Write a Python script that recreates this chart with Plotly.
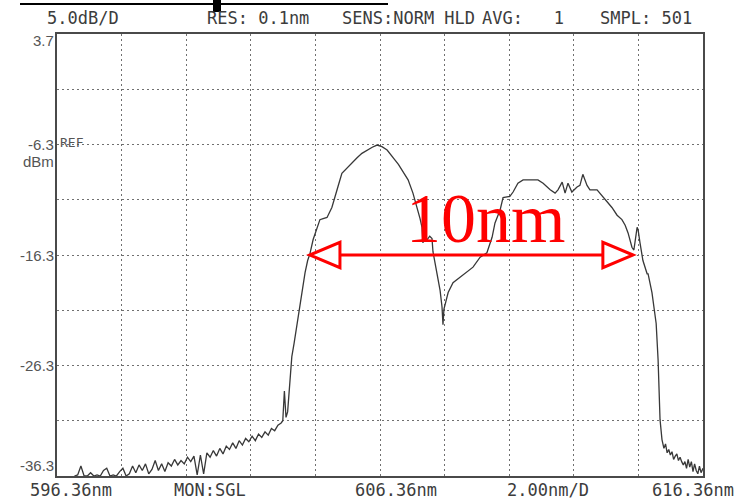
import plotly.graph_objects as go

# ---------------- data ----------------
# noise floor, left side (nm / dBm)
floor_nm = [596.9, 597.0, 597.1, 597.2, 597.3, 597.4, 597.5, 597.6, 597.7, 597.8,
            597.9, 598.0, 598.1, 598.2, 598.3, 598.4, 598.5, 598.6, 598.7, 598.8,
            598.9, 599.0, 599.1, 599.2, 599.3, 599.4, 599.5, 599.6, 599.7, 599.8,
            599.9, 600.0, 600.1, 600.2, 600.3, 600.4, 600.5, 600.6, 600.7, 600.8,
            600.9, 601.0, 601.1, 601.2, 601.3, 601.4, 601.5, 601.6, 601.7, 601.8,
            601.9, 602.0, 602.1, 602.2, 602.3, 602.4, 602.5, 602.6, 602.7, 602.8,
            602.9, 603.0, 603.1, 603.2, 603.3]
floor_dbm = [-36.3, -36.2, -35.4, -36.3, -36.3, -36.0, -36.3, -36.2, -36.3, -35.8,
             -35.6, -36.3, -36.2, -36.3, -35.9, -35.6, -36.3, -36.1, -35.4, -36.0,
             -35.3, -35.8, -35.2, -36.1, -35.7, -34.9, -35.8, -35.2, -35.9, -35.1,
             -35.4, -34.8, -35.3, -34.9, -35.2, -34.6, -35.0, -34.5, -36.2, -34.4,
             -36.1, -34.2, -34.6, -34.0, -34.5, -33.8, -34.3, -33.6, -33.9, -33.3,
             -33.8, -33.1, -33.5, -32.9, -33.2, -32.7, -33.1, -32.5, -32.8, -32.3,
             -32.6, -32.0, -32.2, -31.7, -31.5]

# signal band
band_nm = [603.35, 603.40, 603.45, 603.50, 603.57, 603.63, 603.70, 603.76, 603.85, 603.95,
           604.04, 604.12, 604.19, 604.29, 604.41, 604.50, 604.60, 604.72, 604.87, 604.97,
           605.06, 605.18, 605.34, 605.50, 605.65, 605.80, 605.96, 606.12, 606.27, 606.42,
           606.58, 606.70, 606.82, 606.93, 607.04, 607.13, 607.23, 607.38, 607.51, 607.60,
           607.66, 607.69, 607.73, 607.82, 607.90, 607.97, 608.00, 608.06, 608.12, 608.22,
           608.28, 608.31, 608.34, 608.40, 608.47, 608.62, 608.84, 609.05, 609.24, 609.46,
           609.67, 609.83, 609.92, 610.08, 610.17, 610.38, 610.48, 610.63, 610.79, 611.25,
           611.41, 611.63, 611.78, 611.87, 612.00, 612.09, 612.18, 612.30, 612.46, 612.55,
           612.64, 612.77, 612.86, 613.08, 613.23, 613.39, 613.54, 613.70, 613.85, 613.95,
           614.04, 614.16, 614.22, 614.32, 614.35, 614.41, 614.50, 614.63, 614.66, 614.78,
           614.87, 614.91, 614.97, 615.03, 615.09]
band_dbm = [-31.3, -28.6, -31.0, -30.5, -28.0, -25.5, -24.3, -23.1, -21.3, -19.5,
            -17.9, -16.8, -16.2, -14.9, -13.8, -13.1, -13.0, -12.9, -12.0, -11.1,
            -10.1, -8.9, -8.4, -7.9, -7.5, -7.1, -6.8, -6.55, -6.35, -6.5,
            -6.8, -7.2, -7.7, -8.1, -8.6, -9.0, -9.5, -10.7, -12.0, -13.0,
            -13.8, -15.2, -14.7, -14.9, -14.6, -14.8, -16.0, -16.9, -17.7, -19.5,
            -21.0, -22.6, -21.2, -20.5, -19.7, -18.8, -18.3, -17.8, -17.4, -16.5,
            -16.1, -14.7, -13.4, -12.2, -11.1, -11.0, -10.6, -9.8, -9.5, -9.5,
            -9.8, -10.4, -10.7, -10.4, -9.7, -10.7, -9.8, -10.6, -10.15, -10.0,
            -9.0, -10.0, -10.4, -10.4, -10.9, -11.5, -12.0, -12.7, -13.1, -13.6,
            -14.3, -15.6, -15.85, -13.8, -14.0, -15.2, -16.8, -18.0, -18.0, -19.7,
            -21.5, -22.5, -25.8, -31.2, -33.0]

# noise floor, right side
tail_nm = [615.15, 615.20, 615.25, 615.30, 615.35, 615.40, 615.45, 615.50, 615.55, 615.60,
           615.65, 615.70, 615.75, 615.80, 615.85, 615.90, 615.95, 616.00, 616.05, 616.10,
           616.15, 616.20, 616.25, 616.30, 616.36]
tail_dbm = [-33.8, -33.4, -34.2, -33.9, -34.4, -34.1, -34.8, -34.5, -34.3, -34.9,
            -34.6, -35.0, -35.3, -35.0, -35.6, -34.8, -35.5, -35.0, -35.9, -35.2,
            -35.8, -36.1, -35.4, -36.0, -35.6]

# axis settings
x_start, x_stop, x_div = 596.36, 616.36, 2.0
y_top, y_bottom, y_div = 3.7, -36.3, 5.0
y_tick_labels = [3.7, -6.3, -16.3, -26.3, -36.3]

# 10 nm bandwidth marker
bw_left, bw_right, bw_level = 604.19, 614.19, -16.3
bw_text = "10nm"

header_items = ["5.0dB/D", "RES: 0.1nm", "SENS:NORM HLD", "AVG:   1", "SMPL: 501"]
footer_items = ["596.36nm", "MON:SGL", "606.36nm", "2.00nm/D", "616.36nm"]

# ---------------- figure ----------------
W, H = 743, 502
L, R, T, B = 57, 40, 34, 26
PW, PH = W - L - R, H - T - B


def pxx(px):
    return (px - L) / PW


def pxy(py):
    return (H - B - py) / PH


wl = floor_nm + band_nm + tail_nm
pw = floor_dbm + band_dbm + tail_dbm

fig = go.Figure()
fig.add_trace(go.Scatter(x=wl, y=pw, mode="lines",
                         line=dict(color="#383838", width=1.3), hoverinfo="skip"))

grid = dict(showgrid=True, gridcolor="#707070", gridwidth=1.2, griddash="2px,3px",
            showline=True, mirror=True, linecolor="#4a4a4a", linewidth=1.6,
            zeroline=False, showticklabels=False, ticks="")
fig.update_xaxes(range=[x_start, x_stop], tick0=x_start, dtick=x_div, **grid)
fig.update_yaxes(range=[y_bottom, y_top], tick0=y_top, dtick=y_div, **grid)

mono = "DejaVu Sans Mono"
txtc = "#3c3c3c"
ann = []
header_left = [45, 205, 340, 480, 598]
for t, x0 in zip(header_items, header_left):
    ann.append(dict(text=t, x=pxx(x0), y=pxy(18), xref="paper", yref="paper",
                    xanchor="left", yanchor="middle", showarrow=False,
                    font=dict(family=mono, size=17, color=txtc)))
footer_left = [28, 172, 353, 505, 650]
for t, x0 in zip(footer_items, footer_left):
    ann.append(dict(text=t, x=pxx(x0), y=pxy(490), xref="paper", yref="paper",
                    xanchor="left", yanchor="middle", showarrow=False,
                    font=dict(family=mono, size=17, color=txtc)))

sans = "Liberation Sans Narrow, Liberation Sans, Arial"
for v in y_tick_labels:
    if v == y_top:
        ya, ys = "top", 4
    elif v == y_bottom:
        ya, ys = "bottom", 0
    else:
        ya, ys = "middle", 0
    ann.append(dict(text=f"{v:.1f}", x=0, y=v, xref="paper", yref="y",
                    xanchor="right", yanchor=ya, yshift=ys, xshift=-1, showarrow=False,
                    font=dict(family=sans, size=15, color="#555555")))
ann.append(dict(text="dBm", x=0, y=-6.3, xref="paper", yref="y", xanchor="right",
                yanchor="top", yshift=-6, xshift=-1, showarrow=False,
                font=dict(family=sans, size=15, color="#555555")))
ann.append(dict(text="REF", x=0, y=-6.3, xref="paper", yref="y", xanchor="left",
                yanchor="middle", yshift=2, xshift=1, showarrow=False,
                font=dict(family=mono, size=13, color="#555555")))
ann.append(dict(text=bw_text, x=(bw_left + bw_right) / 2 + 0.45, y=bw_level, xref="x",
                yref="y", xanchor="center", yanchor="bottom", yshift=-4, showarrow=False,
                font=dict(family="Liberation Serif, Times New Roman, serif", size=70,
                          color="#ff0000")))

head_len, head_half = 0.93, 1.15
red = "#ff0000"
shapes = [
    dict(type="line", xref="x", yref="y", x0=bw_left + head_len, x1=bw_right - head_len,
         y0=bw_level, y1=bw_level, line=dict(color=red, width=3)),
    dict(type="path", xref="x", yref="y",
         path=(f"M {bw_left},{bw_level} L {bw_left + head_len},{bw_level + head_half} "
               f"L {bw_left + head_len},{bw_level - head_half} Z"),
         line=dict(color=red, width=3), fillcolor="white"),
    dict(type="path", xref="x", yref="y",
         path=(f"M {bw_right},{bw_level} L {bw_right - head_len},{bw_level + head_half} "
               f"L {bw_right - head_len},{bw_level - head_half} Z"),
         line=dict(color=red, width=3), fillcolor="white"),
    # cropped title remnants at the very top
    dict(type="line", xref="paper", yref="paper", x0=pxx(20), x1=pxx(388),
         y0=pxy(4), y1=pxy(4), line=dict(color="black", width=2)),
    dict(type="rect", xref="paper", yref="paper", x0=pxx(213), x1=pxx(221),
         y0=pxy(12), y1=pxy(0), fillcolor="black", line=dict(width=0)),
]

fig.update_layout(width=W, height=H, margin=dict(l=L, r=R, t=T, b=B),
                  paper_bgcolor="white", plot_bgcolor="white", showlegend=False,
                  annotations=ann, shapes=shapes)
fig.write_html("out.html", config={"displayModeBar": False},
               post_script="document.body.style.margin='0';"
                           "document.body.style.overflow='hidden';")
